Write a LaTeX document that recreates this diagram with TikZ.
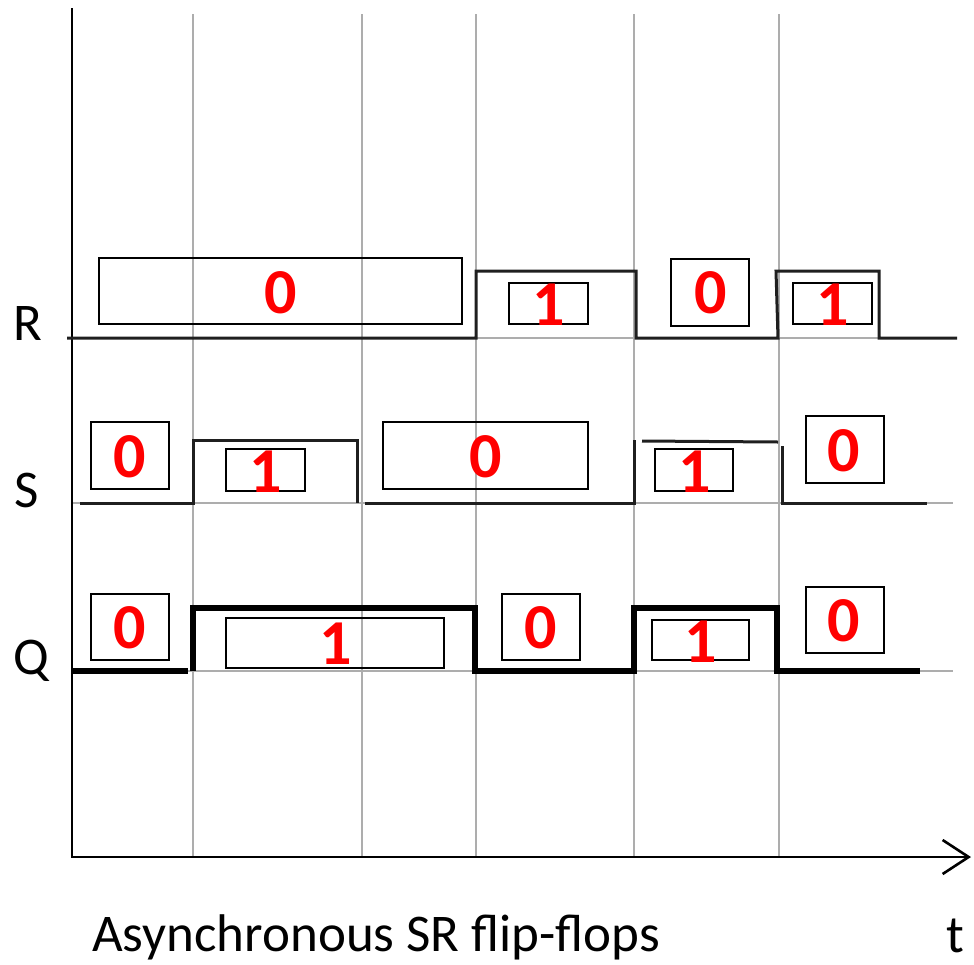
\documentclass[tikz,border=0pt]{standalone}
\usepackage{fontspec}
\setmainfont{Carlito}
\usepackage{tikz}
\usetikzlibrary{arrows.meta}

\begin{document}
\begin{tikzpicture}[x=1pt,y=-1pt,line join=miter]

  \tikzstyle{grid}=[draw=black!32,line width=2.2pt]
  \tikzstyle{axis}=[draw=black,line width=2.6pt]
  \tikzstyle{wave}=[draw=black!88,line width=3pt]
  \tikzstyle{qwave}=[draw=black,line width=5.4pt]
  \tikzstyle{valbox}=[draw=black,line width=2.8pt]
  \tikzstyle{digit}=[inner sep=0pt,text=red,font=\fontsize{64}{64}\selectfont\bfseries]
  \tikzstyle{sig}=[inner sep=0pt,anchor=base,font=\fontsize{53}{53}\selectfont]

  \useasboundingbox (0,0) rectangle (974,964);

  % time grid
  \foreach \x in {193,362,476,634,779}
    \draw[grid] (\x,14) -- (\x,857);
  \foreach \y in {338,503,671}
    \draw[grid] (72,\y) -- (953,\y);

  % axes
  \draw[axis,-{Straight Barb[length=26pt,width=34pt,line width=2.6pt]}]
    (72,8) -- (72,857) -- (971,857);

  % signal names
  \node[sig] (R) at (28,340) {R};
  \node[sig] (S) at (27,507) {S};
  \node[sig] (Q) at (31,674) {Q};

  % R input
  \draw[wave] (67,338) -- (476,338) -- (476,271) -- (636,271) -- (636,338)
    -- (778,338) -- (776,271) -- (879,271) -- (879,338) -- (957,338);
  % S input
  \draw[wave] (80,503) -- (193,503) -- (193,440) -- (357,440) -- (357,503);
  \draw[wave] (365,503) -- (634,503) -- (634,440);
  \draw[wave] (642,441) -- (778,442);
  \draw[wave] (782,446) -- (782,503) -- (927,503);
  % Q output
  \draw[qwave] (73,671) -- (188,671);
  \draw[qwave] (193,671) -- (193,608) -- (475,608) -- (475,671) -- (634,671)
    -- (634,608) -- (777,608) -- (777,671) -- (920,671);

  % value boxes, R row
  \draw[valbox] (99,258) rectangle (462,324);
  \draw[valbox] (509,283) rectangle (588,324);
  \draw[valbox] (671,259) rectangle (749,326);
  \draw[valbox] (793,283) rectangle (872,324);
  \node[digit] (r1) at (281,293) {0};
  \node[digit] (r2) at (549,305) {1};
  \node[digit] (r3) at (711,293) {0};
  \node[digit] (r4) at (833,305) {1};

  % value boxes, S row
  \draw[valbox] (91,422) rectangle (169,489);
  \draw[valbox] (226,449) rectangle (305,491);
  \draw[valbox] (383,422) rectangle (588,489);
  \draw[valbox] (655,449) rectangle (733,491);
  \draw[valbox] (806,416) rectangle (884,483);
  \node[digit] (s1) at (130,457) {0};
  \node[digit] (s2) at (266,472) {1};
  \node[digit] (s3) at (486,457) {0};
  \node[digit] (s4) at (695,472) {1};
  \node[digit] (s5) at (844,451) {0};

  % value boxes, Q row
  \draw[valbox] (91,594) rectangle (169,660);
  \draw[valbox] (226,618) rectangle (444,668);
  \draw[valbox] (502,594) rectangle (580,660);
  \draw[valbox] (652,620) rectangle (749,660);
  \draw[valbox] (806,587) rectangle (884,653);
  \node[digit] (q1) at (130,628) {0};
  \node[digit] (q2) at (336,644) {1};
  \node[digit] (q3) at (541,628) {0};
  \node[digit] (q4) at (701,642) {1};
  \node[digit] (q5) at (844,621) {0};

  % caption and time label
  \node[sig,anchor=base west] (title) at (92,951) {Asynchronous SR flip-flops};
  \node[sig,anchor=base west] (t) at (946,952) {t};

\end{tikzpicture}
\end{document}
